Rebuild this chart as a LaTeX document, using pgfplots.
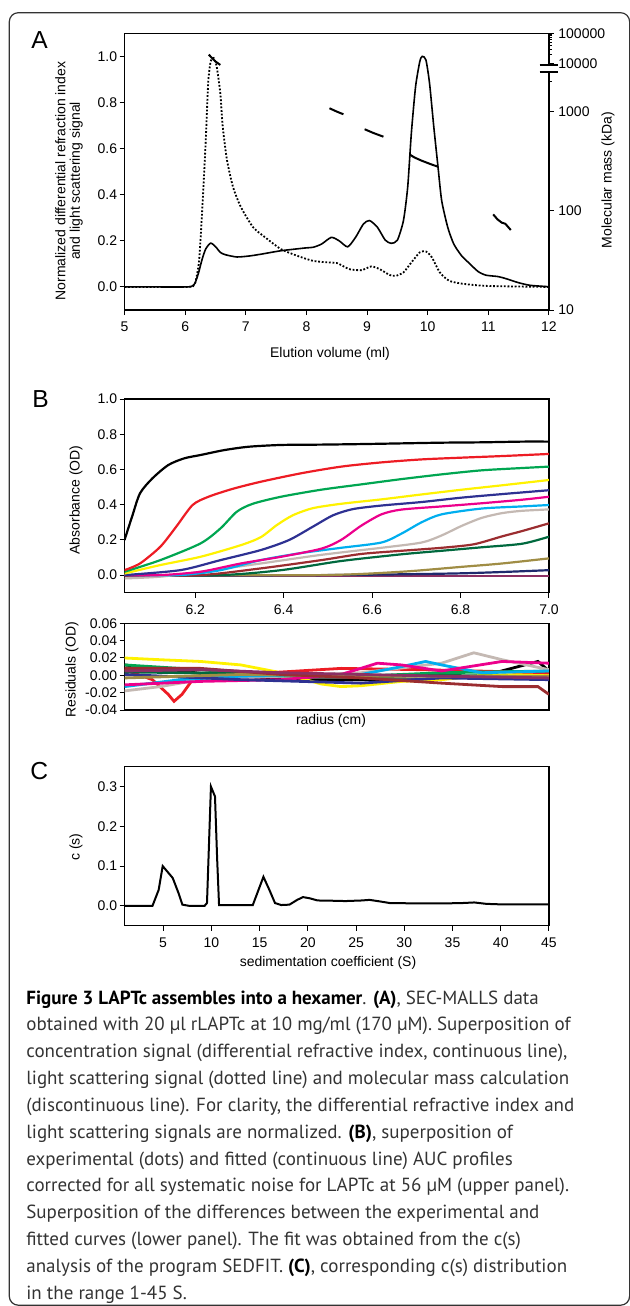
\documentclass[border=0pt]{standalone}
\usepackage{pgfplots}
\pgfplotsset{compat=1.18}
\usepackage{pgfplotstable}
\usepackage{fontspec}
\setmainfont{Liberation Sans}
\newfontfamily\capfont{PT Sans}

\definecolor{cRed}{HTML}{ED1C24}
\definecolor{cGreen}{HTML}{00A651}
\definecolor{cYellow}{HTML}{FFF200}
\definecolor{cNavy}{HTML}{2E3192}
\definecolor{cMagenta}{HTML}{EC008C}
\definecolor{cCyan}{HTML}{00AEEF}
\definecolor{cGrey}{HTML}{C4B9B3}
\definecolor{cBrown}{HTML}{9B2D30}
\definecolor{cDkGreen}{HTML}{00693E}
\definecolor{cOlive}{HTML}{A08D45}
\definecolor{cNavy2}{HTML}{1F2A6E}
\definecolor{cPurple}{HTML}{8B2F63}
\definecolor{capgray}{HTML}{333333}

% panel A: SEC-MALLS
\pgfplotstableread{
x y
5.00 0.000
5.50 0.000
6.00 0.000
6.10 0.002
6.16 0.015
6.22 0.060
6.28 0.120
6.34 0.165
6.42 0.190
6.50 0.175
6.58 0.150
6.66 0.140
6.85 0.130
7.05 0.134
7.25 0.142
7.58 0.157
7.98 0.169
8.11 0.172
8.25 0.186
8.41 0.215
8.54 0.200
8.68 0.174
8.81 0.215
8.94 0.273
9.04 0.288
9.17 0.259
9.30 0.203
9.40 0.189
9.50 0.203
9.60 0.288
9.67 0.433
9.73 0.666
9.80 0.869
9.87 0.978
9.91 1.000
9.97 0.985
10.03 0.884
10.10 0.695
10.17 0.520
10.23 0.375
10.33 0.259
10.43 0.186
10.56 0.135
10.70 0.099
10.83 0.067
10.96 0.051
11.16 0.045
11.29 0.036
11.49 0.019
11.69 0.007
12.00 0.001
}\riData

\pgfplotstableread{
x y
5.00 0.000
6.00 0.000
6.10 0.003
6.16 0.012
6.23 0.113
6.29 0.375
6.34 0.637
6.38 0.884
6.42 0.978
6.47 0.993
6.52 0.956
6.58 0.840
6.62 0.695
6.69 0.550
6.79 0.433
6.92 0.346
7.12 0.259
7.32 0.215
7.58 0.164
7.85 0.135
8.11 0.113
8.38 0.106
8.51 0.103
8.71 0.077
8.91 0.073
9.07 0.089
9.21 0.077
9.37 0.052
9.47 0.048
9.60 0.063
9.73 0.106
9.87 0.150
9.97 0.154
10.07 0.128
10.20 0.063
10.36 0.026
10.63 0.012
11.03 0.004
12.00 0.000
}\lsData

% panel C: c(s)
\pgfplotstableread{
s c
1 0
3.9 0
4.54 0.040
4.96 0.100
6.0 0.070
6.6 0.032
7.0 0.003
7.7 0
9.3 0
9.55 0.007
9.75 0.150
9.96 0.300
10.38 0.275
10.6 0.120
10.8 0.002
14.3 0.002
15.4 0.073
16.0 0.041
16.6 0.007
17.25 0.002
18.1 0.003
18.9 0.015
19.5 0.022
20.2 0.019
21.0 0.0135
22.25 0.013
23.9 0.012
25.6 0.0135
26.4 0.015
27.5 0.011
28.5 0.007
31.8 0.006
33.9 0.006
36.0 0.007
37.25 0.0085
38.5 0.005
40.2 0.0035
45 0.0035
}\csData

\pgfplotsset{
  panel/.style={
    scale only axis, width=212.25pt, anchor=north west,
    axis line style={line width=0.6pt},
    every tick/.style={black, line width=0.5pt},
    tick align=outside, major tick length=2.5pt,
    tick pos=left,
    scaled x ticks=false, scaled y ticks=false,
    tick label style={font=\fontsize{7}{8}\selectfont},
    yticklabel style={inner xsep=1pt},
  },
  auc/.style={line width=1.1pt, smooth, tension=0.45},
  res/.style={line width=1.4pt},
}

\begin{document}
\begin{tikzpicture}
\begin{scope}[x=0.5pt, y=-0.5pt]
  \useasboundingbox (0,0) rectangle (629,1306);
  \draw[capgray, line width=0.6pt, rounded corners=4.5pt] (9.3,12.7) rectangle (629.6,1305.2);
\end{scope}

% ---- A ----
\begin{axis}[panel, at={(62.25pt,-16.65pt)}, height=138.35pt,
  xmin=5, xmax=12, ymin=-0.1, ymax=1.1,
  xtick={5,...,12}, xticklabels={5,6,7,8,9,10,11,12},
  ytick={0,0.2,0.4,0.6,0.8,1.0}, yticklabels={0.0,0.2,0.4,0.6,0.8,1.0}]
  \addplot[black, line width=0.8pt, smooth, tension=0.4] table[x=x, y=y] {\riData};
  \addplot[black, line width=0.9pt, dash pattern=on 0.9pt off 0.9pt, smooth, tension=0.4] table[x=x, y=y] {\lsData};
\end{axis}
\begin{axis}[panel, at={(62.25pt,-16.65pt)}, height=138.35pt,
  xmin=5, xmax=12, ymin=1, ymax=3.789,
  axis x line=none, axis y line*=right, ytick pos=right,
  ytick={1,2,3,3.48,3.789}, yticklabels={10,100,1000,10000,100000},
  yticklabel style={inner xsep=2pt},
  minor ytick={3.301,3.574,3.629,3.668,3.698,3.723,3.744,3.762,3.778},
  minor tick length=1.5pt]
  % molecular mass (kDa); above 5000 kDa the axis is broken
  \addplot[black, line width=1pt] table[x=x, y expr={3.48+0.3125*log10(\thisrow{m}/10000)}] {
x m
6.39 20000
6.45 15000
6.50 12000
6.58 9300
};
  \addplot[black, line width=1pt] table[x=x, y expr={log10(\thisrow{m})}] {
x m
8.38 1080
8.50 1000
8.61 940
};
  \addplot[black, line width=1pt] table[x=x, y expr={log10(\thisrow{m})}] {
x m
8.96 664
9.10 610
9.27 558
};
  \addplot[black, line width=1pt] table[x=x, y expr={log10(\thisrow{m})}] {
x m
9.70 370
9.78 345
9.90 320
10.05 295
10.17 278
};
  \addplot[black, line width=1pt] table[x=x, y expr={log10(\thisrow{m})}] {
x m
11.08 92
11.15 82
11.22 76
11.28 74
11.37 64
};
\end{axis}

% ---- B upper ----
\begin{axis}[panel, at={(62.25pt,-199.5pt)}, height=96.85pt,
  xmin=6.04, xmax=7.0, ymin=-0.1, ymax=1.0,
  xtick={6.2,6.4,6.6,6.8,7.0}, xticklabels={6.2,6.4,6.6,6.8,7.0},
  ytick={0,0.2,0.4,0.6,0.8,1.0}, yticklabels={0.0,0.2,0.4,0.6,0.8,1.0}]
  \addplot[auc, cPurple] coordinates {(6.04,-0.003) (7.0,-0.003)};
  \addplot[auc, cNavy2] coordinates {(6.04,-0.005) (6.5,0.0) (6.8,0.010) (7.0,0.028)};
  \addplot[auc, cOlive] coordinates {(6.04,0) (6.485,0) (6.666,0.019) (6.803,0.047) (6.894,0.066) (7.0,0.095)};
  \addplot[auc, cDkGreen] coordinates {(6.04,0) (6.257,0) (6.394,0.028) (6.530,0.080) (6.666,0.118) (6.757,0.138) (6.848,0.158) (6.939,0.178) (7.0,0.218)};
  \addplot[auc, cBrown] coordinates {(6.04,-0.005) (6.212,0) (6.348,0.038) (6.485,0.085) (6.575,0.120) (6.666,0.138) (6.757,0.155) (6.830,0.175) (6.894,0.220) (6.939,0.250) (7.0,0.294)};
  \addplot[auc, cGrey] coordinates {(6.04,-0.019) (6.121,-0.009) (6.212,0.019) (6.348,0.066) (6.485,0.115) (6.621,0.155) (6.712,0.185) (6.757,0.225) (6.803,0.280) (6.848,0.325) (6.894,0.352) (6.939,0.365) (7.0,0.373)};
  \addplot[auc, cCyan] coordinates {(6.04,0) (6.166,0) (6.257,0.028) (6.348,0.085) (6.439,0.125) (6.530,0.155) (6.621,0.185) (6.666,0.235) (6.712,0.300) (6.757,0.345) (6.848,0.378) (6.939,0.390) (7.0,0.398)};
  \addplot[auc, cMagenta] coordinates {(6.04,0) (6.121,0) (6.212,0.019) (6.303,0.066) (6.394,0.104) (6.485,0.150) (6.530,0.200) (6.575,0.280) (6.621,0.345) (6.666,0.372) (6.757,0.390) (6.848,0.408) (6.939,0.428) (7.0,0.445)};
  \addplot[auc, cNavy] coordinates {(6.04,0) (6.166,0.028) (6.257,0.085) (6.348,0.142) (6.412,0.199) (6.466,0.275) (6.512,0.340) (6.557,0.375) (6.621,0.395) (6.712,0.415) (6.803,0.440) (6.894,0.460) (7.0,0.482)};
  \addplot[auc, cYellow] coordinates {(6.04,0.009) (6.121,0.057) (6.212,0.104) (6.303,0.170) (6.348,0.215) (6.385,0.285) (6.421,0.340) (6.466,0.380) (6.530,0.405) (6.621,0.430) (6.712,0.458) (6.803,0.485) (6.894,0.510) (7.0,0.540)};
  \addplot[auc, cGreen] coordinates {(6.04,0.019) (6.121,0.085) (6.212,0.180) (6.257,0.265) (6.294,0.360) (6.330,0.405) (6.394,0.445) (6.485,0.485) (6.575,0.515) (6.666,0.545) (6.757,0.572) (6.848,0.595) (6.939,0.608) (7.0,0.616)};
  \addplot[auc, cRed] coordinates {(6.04,0.028) (6.075,0.066) (6.121,0.161) (6.157,0.275) (6.194,0.398) (6.230,0.445) (6.285,0.490) (6.348,0.530) (6.439,0.578) (6.530,0.616) (6.621,0.640) (6.712,0.657) (6.803,0.667) (6.894,0.676) (7.0,0.688)};
  \addplot[auc, black] coordinates {(6.04,0.199) (6.057,0.331) (6.075,0.464) (6.103,0.549) (6.139,0.625) (6.175,0.663) (6.212,0.682) (6.266,0.710) (6.321,0.729) (6.394,0.739) (6.485,0.741) (6.575,0.744) (6.666,0.748) (6.757,0.752) (6.848,0.754) (6.939,0.758) (7.0,0.758)};
\end{axis}

% ---- B residuals ----
\begin{axis}[panel, at={(62.25pt,-311.65pt)}, height=43.35pt,
  xmin=6.04, xmax=7.0, ymin=-0.04, ymax=0.06,
  xtick=\empty,
  ytick={-0.04,-0.02,0,0.02,0.04,0.06}, yticklabels={-0.04,-0.02,0.00,0.02,0.04,0.06}]
  \addplot[res, black] coordinates {(6.04,0.012) (6.103,0.008) (6.166,0.005) (6.303,-0.003) (6.439,-0.005) (6.575,-0.005) (6.712,-0.005) (6.848,-0.001) (6.975,0.016) (7.0,0.005)};
  \addplot[res, cYellow] coordinates {(6.04,0.020) (6.121,0.018) (6.212,0.016) (6.303,0.012) (6.394,0.003) (6.485,-0.010) (6.530,-0.013) (6.575,-0.012) (6.666,-0.007) (6.757,-0.005) (6.848,0.000) (6.939,0.001) (7.0,0.001)};
  \addplot[res, cRed] coordinates {(6.04,0.0065) (6.103,-0.005) (6.139,-0.022) (6.152,-0.030) (6.170,-0.022) (6.194,-0.005) (6.303,0.001) (6.530,0.008) (6.712,0.0065) (7.0,0.003)};
  \addplot[res, cGreen] coordinates {(6.04,0.012) (6.212,0.0065) (6.394,-0.001) (6.575,-0.001) (6.757,0.003) (7.0,0.005)};
  \addplot[res, cGrey] coordinates {(6.04,-0.018) (6.121,-0.013) (6.212,-0.005) (6.394,-0.001) (6.575,0.003) (6.757,0.014) (6.830,0.026) (6.894,0.018) (7.0,0.0065)};
  \addplot[res, cCyan] coordinates {(6.04,-0.013) (6.166,-0.005) (6.303,-0.001) (6.575,0.001) (6.666,0.010) (6.721,0.016) (6.757,0.012) (6.848,0.003) (7.0,0.005)};
  \addplot[res, cMagenta] coordinates {(6.04,-0.011) (6.212,-0.007) (6.394,-0.005) (6.530,0.001) (6.612,0.014) (6.666,0.012) (6.757,0.005) (6.894,0.016) (7.0,0.014)};
  \addplot[res, cNavy] coordinates {(6.04,0.001) (6.303,-0.005) (6.575,-0.009) (6.757,-0.003) (7.0,-0.005)};
  \addplot[res, cDkGreen] coordinates {(6.04,0.004) (6.303,0.002) (6.575,-0.002) (6.757,0.000) (7.0,-0.002)};
  \addplot[res, cOlive] coordinates {(6.04,-0.003) (6.303,0.001) (6.575,-0.001) (7.0,-0.001)};
  \addplot[res, cBrown] coordinates {(6.04,0.008) (6.212,0.008) (6.394,0.001) (6.575,-0.003) (6.757,-0.009) (6.894,-0.013) (6.975,-0.013) (7.0,-0.022)};
  \addplot[res, cPurple] coordinates {(6.04,0.005) (6.212,0.0065) (6.394,0.003) (6.575,0.001) (6.757,-0.001) (7.0,-0.003)};
\end{axis}

% ---- C ----
\begin{axis}[panel, at={(62.25pt,-383.35pt)}, height=79.5pt,
  xmin=1, xmax=45, ymin=-0.05, ymax=0.35,
  xtick={5,10,...,45}, xticklabels={5,10,15,20,25,30,35,40,45},
  ytick={0,0.1,0.2,0.3}, yticklabels={0.0,0.1,0.2,0.3}]
  \addplot[black, line width=1pt] table[x=s, y=c] {\csData};
\end{axis}

\begin{scope}[x=0.5pt, y=-0.5pt]
  % axis break on the right-hand scale of A
  \fill[white] (545,65.6) rectangle (553,71.4);
  \draw[line width=0.6pt] (539.5,65) -- (557.5,65) (539.5,72) -- (557.5,72);

  \begin{scope}[every node/.style={font=\fontsize{12.3}{14}\selectfont, anchor=base west, inner sep=0pt}]
    \node at (31,48.3) {A};
    \node at (32,407.3) {B};
    \node at (30,779.3) {C};
  \end{scope}

  \begin{scope}[every node/.style={font=\fontsize{7}{7}\selectfont, inner sep=0pt}]
    \node[rotate=90, align=center] at (69,181) {Normalized differential refraction index\\[0.3pt]and light scattering signal};
    \node[rotate=90] at (608,180) {Molecular mass (kDa)};
    \node[anchor=base] at (330,357.3) {Elution volume (ml)};
    \node[rotate=90] at (76,500) {Absorbance (OD)};
    \node[rotate=90] at (72,670) {Residuals (OD)};
    \node[anchor=base] at (331,724) {radius (cm)};
    \node[rotate=90] at (76,847) {c (s)};
    \node[anchor=base] at (328,966.7) {sedimentation coefficient (S)};
  \end{scope}

  \begin{scope}[every node/.style={font=\capfont\fontsize{9.5}{11}\selectfont, anchor=base west, inner sep=0pt, text=capgray}]
    \node at (26,1004.0) {\textcolor{black}{\bfseries Figure 3 LAPTc assembles into a hexamer}. \textcolor{black}{\bfseries (A)}, SEC-MALLS data};
    \node at (26,1030.85) {obtained with 20 µl rLAPTc at 10 mg/ml (170 µM). Superposition of};
    \node at (26,1057.7) {concentration signal (differential refractive index, continuous line),};
    \node at (26,1084.55) {light scattering signal (dotted line) and molecular mass calculation};
    \node at (26,1111.4) {(discontinuous line). For clarity, the differential refractive index and};
    \node at (26,1138.25) {light scattering signals are normalized. \textcolor{black}{\bfseries (B)}, superposition of};
    \node at (26,1165.1) {experimental (dots) and fitted (continuous line) AUC profiles};
    \node at (26,1191.95) {corrected for all systematic noise for LAPTc at 56 µM (upper panel).};
    \node at (26,1218.8) {Superposition of the differences between the experimental and};
    \node at (26,1245.65) {fitted curves (lower panel). The fit was obtained from the c(s)};
    \node at (26,1272.5) {analysis of the program SEDFIT. \textcolor{black}{\bfseries (C)}, corresponding c(s) distribution};
    \node at (26,1299.35) {in the range 1-45 S.};
  \end{scope}
\end{scope}
\end{tikzpicture}
\end{document}
